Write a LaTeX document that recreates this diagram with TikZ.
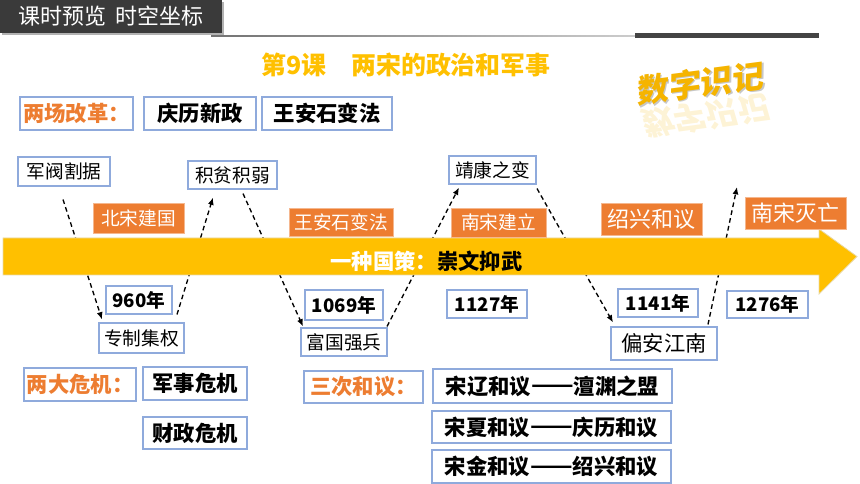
\documentclass[tikz,border=0pt]{standalone}
\usepackage{fontspec}
\usepackage{graphicx}
\setmainfont{Noto Sans CJK SC}
\usetikzlibrary{arrows.meta,calc}
\definecolor{boxblue}{HTML}{8FAADC}
\definecolor{orng}{HTML}{ED7D31}
\definecolor{gold}{HTML}{FFC000}
\definecolor{deepgold}{HTML}{F5B400}
\definecolor{hdrgray}{HTML}{3A3A3A}
\definecolor{bandedge}{HTML}{E9D9A6}
\newcommand{\fwdash}{\raisebox{0.06em}{\resizebox{2em}{\height}{——}}}
\pgfdeclarelayer{arrowlayer}
\pgfdeclarelayer{bandlayer}
\pgfsetlayers{arrowlayer,bandlayer,main}
\tikzset{
  sz/.style 2 args={minimum width=#1*0.75pt, minimum height=#2*0.75pt},
  wbox/.style={draw=boxblue, line width=0.8pt, fill=white, inner sep=0pt,
    font=\fontsize{14}{16}\selectfont},
  bbox/.style={wbox, font=\fontsize{16}{18}\selectfont\bfseries},
  lbox/.style={bbox, text=orng},
  ybox/.style={wbox, font=\fontsize{14}{16}\selectfont\bfseries},
  obox/.style={fill=orng, draw=orng!55!white, line width=0.6pt, text=white,
    inner sep=0pt, font=\fontsize{14}{16}\selectfont},
  obig/.style={obox, font=\fontsize{16.5}{18}\selectfont},
  hdrbox/.style={fill=hdrgray, text=white, inner sep=0pt,
    font=\fontsize{16.5}{18}\selectfont},
  dasharr/.style={draw=black, line width=1pt, dash pattern=on 3.5pt off 2.5pt,
    -{Latex[length=5.5pt,width=4.5pt]}},
  logobase/.style={font=\fontsize{24}{26}\selectfont\bfseries, text=deepgold,
    inner sep=0pt},
}
\begin{document}
\begin{tikzpicture}[x=0.75pt,y=-0.75pt]
\useasboundingbox (0,0) rectangle (860,484);
% header
\fill[black!30] (2,2.5) rectangle (224,35.5);
\node[hdrbox, sz={222}{33}] (hdr) at (111,16.5) {课时预览\hspace{0.45em}时空坐标};
\shade[left color=black!55, right color=black!20] (211,35.4) rectangle (635,36.8);
\fill[hdrgray!95] (635,33) rectangle (819,38.5);
% title
\node[font=\fontsize{18.7}{20}\selectfont\bfseries, text=gold, inner sep=0pt] (title) at (406,65) {第9课　两宋的政治和军事};
% logo
\node[logobase, opacity=0.16, rotate=7.5, yscale=-1, xslant=0.15] (logoref) at (706,116) {数字识记};
\node[logobase, text=black!22, rotate=7.5, xslant=0.15] (logoshadow) at (702.5,84.5) {数字识记};
\node[logobase, rotate=7.5, xslant=0.15] (logotext) at (701,83) {数字识记};
% reforms row
\node[lbox, sz={113}{33}] (gaige) at (76.5,113.5) {两场改革：};
\node[bbox, sz={112}{33}] (qingli) at (200,113.5) {庆历新政};
\node[bbox, sz={130}{33}] (wang1) at (327,113.5) {王安石变法};
% upper boxes
\node[wbox, sz={92}{29}] (junfa) at (64,171.5) {军阀割据};
\node[wbox, sz={89}{28}] (jipin) at (232.5,175) {积贫积弱};
\node[wbox, sz={87}{28}] (jingkang) at (492.5,170) {靖康之变};
% orange labels
\node[obox, sz={91}{30}] (beisong) at (138.5,218) {北宋建国};
\node[obox, sz={104}{28}] (wang2) at (341,222) {王安石变法};
\node[obox, sz={95}{29}] (nansong) at (498.5,222.5) {南宋建立};
\node[obig, sz={101}{32}] (shaoxing) at (651.5,219) {绍兴和议};
\node[obig, sz={101}{32}] (miewang) at (795.5,213) {南宋灭亡};
% years
\node[ybox, sz={66}{28}] (y960) at (139,300) {960年};
\node[ybox, sz={78}{30}] (y1069) at (344,305) {1069年};
\node[ybox, sz={80}{28}] (y1127) at (487,304) {1127年};
\node[ybox, sz={80}{28}] (y1141) at (658,303) {1141年};
\node[ybox, sz={81}{27}] (y1276) at (767.5,304.5) {1276年};
% lower boxes
\node[wbox, sz={85}{30}] (zhuanzhi) at (141.5,338) {专制集权};
\node[wbox, sz={86}{28}] (fuguo) at (344,342) {富国强兵};
\node[wbox, sz={106}{33}, font=\fontsize{16}{18}\selectfont] (pianan) at (664,343.5) {偏安江南};
% crises and treaties
\node[lbox, sz={112}{33}] (weiji) at (80,384.5) {两大危机：};
\node[bbox, sz={104}{33}] (junshi) at (195,383.5) {军事危机};
\node[bbox, sz={104}{32}] (caizheng) at (195,433) {财政危机};
\node[lbox, sz={119}{32}] (heyi) at (363.5,387) {三次和议：};
\node[bbox, sz={239}{34}] (songliao) at (552.5,386) {宋辽和议\fwdash 澶渊之盟};
\node[bbox, sz={239}{32}] (songxia) at (551.5,427) {宋夏和议\fwdash 庆历和议};
\node[bbox, sz={239}{33}] (songjin) at (551.5,466.5) {宋金和议\fwdash 绍兴和议};
% policy text on the band
\node[font=\fontsize{16}{18}\selectfont\bfseries, inner sep=0pt] (policy) at (426.5,261) {\textcolor{white}{一种国策：}崇文抑武};
\coordinate (freeend) at (737,187);
% band
\begin{pgfonlayer}{bandlayer}
\path[fill=gold, draw=bandedge, line width=0.6pt]
  (3,238) -- (819,238) -- (819,229) -- (857,256.5) -- (819,294) -- (819,275) -- (3,275) -- cycle;
\end{pgfonlayer}
% dashed connectors
\begin{pgfonlayer}{arrowlayer}
\draw[dasharr] ($(junfa.south)+(-1,13)$) -- ($(zhuanzhi.north)+(-39.5,-3)$);
\draw[dasharr] ($(zhuanzhi.north)+(35.5,-8)$) -- ($(jipin.south)+(-19.5,8)$);
\draw[dasharr] ($(jipin.south)+(10.5,4)$) -- ($(fuguo.north)+(-41,-1)$);
\draw[dasharr] ($(fuguo.north)+(43,-1)$) -- ($(jingkang.south)+(-33.5,3)$);
\draw[dasharr] ($(jingkang.south)+(44.5,4)$) -- ($(pianan.north)+(-51,-4)$);
\draw[dasharr] ($(pianan.north)+(44,-2)$) -- (freeend);
\end{pgfonlayer}
\end{tikzpicture}
\end{document}
